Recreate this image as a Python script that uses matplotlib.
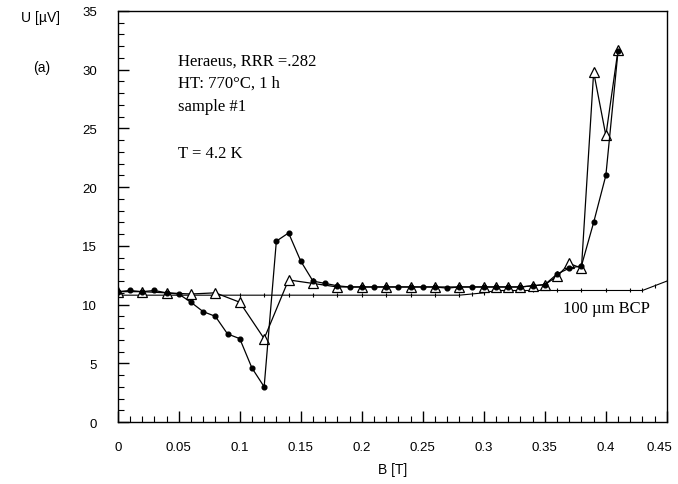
import matplotlib
matplotlib.use("Agg")
import matplotlib.pyplot as plt
import matplotlib.transforms as mtransforms
import numpy as np
from matplotlib.ticker import MultipleLocator

# sample #1, filled circles (every 0.01 T)
b_dots = [0.00, 0.01, 0.02, 0.03, 0.04, 0.05, 0.06, 0.07, 0.08, 0.09,
          0.10, 0.11, 0.12, 0.13, 0.14, 0.15, 0.16, 0.17, 0.18, 0.19,
          0.20, 0.21, 0.22, 0.23, 0.24, 0.25, 0.26, 0.27, 0.28, 0.29,
          0.30, 0.31, 0.32, 0.33, 0.34, 0.35, 0.36, 0.37, 0.38, 0.39,
          0.40, 0.41]
u_dots = [11.1, 11.2, 11.1, 11.2, 11.0, 10.9, 10.2, 9.4, 9.0, 7.5,
          7.1, 4.6, 3.0, 15.4, 16.1, 13.7, 12.0, 11.8, 11.6, 11.5,
          11.5, 11.5, 11.5, 11.5, 11.5, 11.5, 11.5, 11.4, 11.5, 11.5,
          11.5, 11.5, 11.5, 11.5, 11.6, 11.7, 12.6, 13.1, 13.3, 17.0,
          21.0, 31.6]

# open triangles
b_tri = [0.00, 0.02, 0.04, 0.06, 0.08, 0.10, 0.12, 0.14, 0.16, 0.18,
         0.20, 0.22, 0.24, 0.26, 0.28, 0.30, 0.31, 0.32, 0.33, 0.34,
         0.35, 0.36, 0.37, 0.38, 0.39, 0.40, 0.41]
u_tri = [11.1, 11.1, 11.0, 10.9, 11.0, 10.2, 7.1, 12.1, 11.8, 11.5,
         11.5, 11.5, 11.5, 11.5, 11.5, 11.5, 11.5, 11.5, 11.5, 11.6,
         11.7, 12.4, 13.5, 13.1, 29.8, 24.4, 31.7]

# 100 um BCP reference
b_bcp = [0.00, 0.02, 0.04, 0.06, 0.08, 0.10, 0.12, 0.14, 0.16, 0.18,
         0.20, 0.22, 0.24, 0.26, 0.28, 0.29, 0.30, 0.31, 0.32, 0.34,
         0.36, 0.38, 0.40, 0.42, 0.43, 0.44, 0.45]
u_bcp = [10.8, 10.8, 10.8, 10.8, 10.8, 10.8, 10.8, 10.8, 10.8, 10.8,
         10.8, 10.8, 10.8, 10.8, 10.8, 10.9, 11.0, 11.2, 11.2, 11.2,
         11.2, 11.2, 11.2, 11.2, 11.2, 11.6, 12.0]

x_ticks = [0, 0.05, 0.1, 0.15, 0.2, 0.25, 0.3, 0.35, 0.4, 0.45]
x_labels = ['0', '0.05', '0.1', '0.15', '0.2', '0.25', '0.3', '0.35', '0.4', '0.45']
y_ticks = [0, 5, 10, 15, 20, 25, 30, 35]

fig = plt.figure(figsize=(6.78, 4.85), dpi=100)
ax = fig.add_axes([0.1736, 0.1278, 0.81, 0.8475])

ax.plot(b_bcp, u_bcp, color='black', lw=0.8, marker='|', ms=3, mew=0.8)
ax.plot(b_tri, u_tri, color='black', lw=0.9, marker='^', ms=6.5,
        mfc='white', mec='black', mew=0.9)
ax.plot(b_dots, u_dots, color='black', lw=0.9, marker='o', ms=3.4)

ax.set_xlim(0, 0.45)
ax.set_ylim(0, 35)
ax.set_xticks(x_ticks)
ax.set_xticklabels(x_labels)
ax.set_yticks(y_ticks)
ax.xaxis.set_minor_locator(MultipleLocator(0.01))
ax.yaxis.set_minor_locator(MultipleLocator(1))
ax.tick_params(which='major', direction='in', length=8, width=1, labelsize=9.5, pad=14,
               labelfontfamily='Liberation Sans')
ax.tick_params(which='minor', direction='in', length=4, width=0.8)
ax.tick_params(axis='y', pad=15)
for s in ax.spines.values():
    s.set_linewidth(1)

# last x label sits a little left of its tick so it stays inside the figure
last = ax.get_xticklabels()[-1]
last.set_transform(last.get_transform() +
                   mtransforms.ScaledTranslation(-8 / 100, 0, fig.dpi_scale_trans))

ax.set_xlabel('B [T]', fontsize=10, family='Liberation Sans', labelpad=6)
fig.text(0.059, 0.963, 'U [µV]', fontsize=10, family='Liberation Sans', ha='center', va='center')
fig.text(0.062, 0.86, '(a)', fontsize=10, family='Liberation Sans', ha='center', va='center')

serif = 'Liberation Serif'
ax.text(0.049, 30.8, 'Heraeus, RRR =.282', fontsize=12, family=serif, va='center')
ax.text(0.049, 28.9, 'HT: 770°C, 1 h', fontsize=12, family=serif, va='center')
ax.text(0.049, 26.9, 'sample #1', fontsize=12, family=serif, va='center')
ax.text(0.049, 22.9, 'T = 4.2 K', fontsize=12, family=serif, va='center')
ax.text(0.436, 10.4, '100 µm BCP', fontsize=12, family=serif, ha='right', va='top')

fig.savefig('out.png', dpi=100)
